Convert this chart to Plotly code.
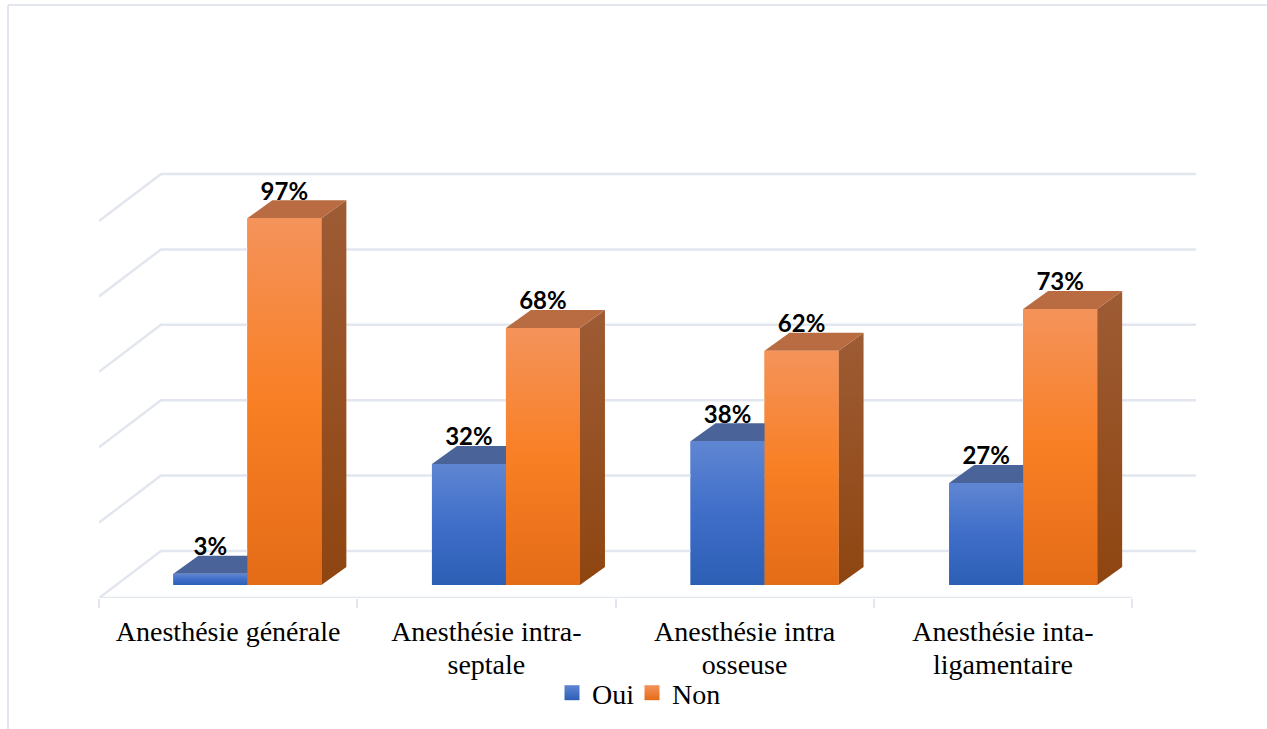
import plotly.graph_objects as go

# ---- data ----
category_lines = [["Anesthésie générale"], ["Anesthésie intra-", "septale"],
                  ["Anesthésie intra", "osseuse"], ["Anesthésie inta-", "ligamentaire"]]
oui = [3, 32, 38, 27]
non = [97, 68, 62, 73]
grid_levels = [0, 20, 40, 60, 80, 100]

# ---- projection of the pseudo-3D drawing, in axis units ----
PX_X = 258.25   # px per category
PX_Y = 3.78     # px per percent
W_PLOT = 1196 - 99
H_PLOT = 598
x_max = W_PLOT / PX_X
bar_w = 74 / PX_X
bar_dx, bar_dy = 25 / PX_X, 18 / PX_Y
wall_dx, wall_dy = 62 / PX_X, 47 / PX_Y
floor_y = -13 / PX_Y
group_offset = 0.5745
group_step = 258.6 / PX_X
grid_scale = 3.77 / PX_Y
label_drop = 1.4

GRID = "#E2E6EE"
BLUE = dict(mid="#3F6EC6", light="#5F86D2", dark="#2D5FB5", legend_w=35,
            front=[[0, "#2D5FB5"], [0.5, "#3F6EC9"], [1, "#5F86D2"]],
            side=[[0, "#2D4A85"], [1, "#4A6399"]], top="#4A6399")
ORANGE = dict(mid="#F47F24", light="#F4935B", dark="#E46C17", legend_w=None,
              front=[[0, "#E46C17"], [0.5, "#F97F24"], [1, "#F4935B"]],
              side=[[0, "#8E4510"], [1, "#9E5C35"]], top="#B96B41")


def poly(x, y, **kw):
    return go.Scatter(x=x + [x[0]], y=y + [y[0]], mode="lines", fill="toself", line=dict(width=0),
                      showlegend=False, hoverinfo="skip", cliponaxis=False, **kw)


fig = go.Figure()

# wall gridlines with their left diagonals
gx, gy = [], []
for g in grid_levels:
    gx += [0, wall_dx, x_max, None]
    gy += [floor_y + g * grid_scale, floor_y + wall_dy + g * grid_scale, floor_y + wall_dy + g * grid_scale, None]
fig.add_trace(go.Scatter(x=gx, y=gy, mode="lines", line=dict(color=GRID, width=2.5),
                         showlegend=False, hoverinfo="skip", cliponaxis=False))
# floor front edge
fig.add_trace(go.Scatter(x=[0, 4], y=[floor_y, floor_y], mode="lines", line=dict(color=GRID, width=2.5),
                         showlegend=False, hoverinfo="skip", cliponaxis=False))

series = [("Oui", oui, -1, BLUE), ("Non", non, 0, ORANGE)]
for name, values, side, st in series:
    xs = [i * group_step + group_offset + side * bar_w for i in range(len(values))]
    fig.add_trace(go.Bar(x=xs, y=values, width=bar_w, offset=0, name=name, showlegend=False,
                         marker=dict(color=st["mid"], line=dict(width=0)), cliponaxis=False))

for name, values, side, st in series:
    for i, v in enumerate(values):
        x0 = i * group_step + group_offset + side * bar_w
        x1 = x0 + bar_w
        fig.add_trace(poly([x1, x1 + bar_dx, x1 + bar_dx, x1], [0, bar_dy, v + bar_dy, v],
                           fillgradient=dict(type="vertical", colorscale=st["side"])))
        fig.add_trace(poly([x0, x1, x1 + bar_dx, x0 + bar_dx], [v, v, v + bar_dy, v + bar_dy],
                           fillcolor=st["top"]))
        fig.add_trace(poly([x0, x1, x1, x0], [0, 0, v, v],
                           fillgradient=dict(type="vertical", colorscale=st["front"])))

for name, values, side, st in series:
    xs = [i * group_step + group_offset + (side + 0.5) * bar_w for i in range(len(values))]
    fig.add_trace(go.Scatter(x=xs, y=[v + bar_dy - label_drop for v in values],
                             text=[f"{v}%" for v in values], mode="text",
                             textposition="top center", cliponaxis=False, showlegend=False,
                             hoverinfo="skip",
                             textfont=dict(family="Lato", size=24, color="#000000", weight="bold")))
    # legend key with the bars' gradient
    fig.add_trace(go.Scatter(x=[None], y=[None], mode="markers", name=name, hoverinfo="skip",
                             legendwidth=st["legend_w"],
                             marker=dict(symbol="square", size=15, color=st["light"],
                                         gradient=dict(type="vertical", color=st["dark"]))))

ticktext = ["<br>".join(f'<span style="font-size:28px">{t}</span>' for t in lines) for lines in category_lines]

fig.update_layout(
    width=1267, height=729, autosize=False,
    margin=dict(l=99, r=71, t=0, b=131),
    paper_bgcolor="#FFFFFF", plot_bgcolor="#FFFFFF",
    barmode="overlay",
    showlegend=True,
    legend=dict(orientation="h", x=(552 - 99) / W_PLOT, y=(H_PLOT - 668) / H_PLOT, xanchor="left", yanchor="top",
                font=dict(family="Liberation Serif", size=28, color="#000000"),
                bgcolor="rgba(0,0,0,0)"),
    xaxis=dict(range=[0, x_max], showgrid=False, zeroline=False, showline=False,
               tickmode="array", tickvals=[i + 0.5 for i in range(4)], ticktext=ticktext,
               ticks="", ticklabelstandoff=17,
               tickfont=dict(family="Liberation Serif", size=25.4, color="#000000"),
               minor=dict(tickmode="array", tickvals=[0, 1, 2, 3, 4], ticks="outside", ticklen=9,
                          tickwidth=2, tickcolor=GRID, showgrid=False)),
    yaxis=dict(range=[floor_y, 585 / PX_Y], visible=False),
    shapes=[
        dict(type="line", xref="paper", yref="paper", x0=(8 - 99) / W_PLOT, x1=(1267 - 99) / W_PLOT,
             y0=(H_PLOT - 5) / H_PLOT, y1=(H_PLOT - 5) / H_PLOT, line=dict(color=GRID, width=2)),
        dict(type="line", xref="paper", yref="paper", x0=(8 - 99) / W_PLOT, x1=(8 - 99) / W_PLOT,
             y0=(H_PLOT - 5) / H_PLOT, y1=(H_PLOT - 729) / H_PLOT, line=dict(color=GRID, width=2)),
    ],
)

fig.write_html("out.html", config={"displayModeBar": False}, post_script="document.body.style.margin='0';")
